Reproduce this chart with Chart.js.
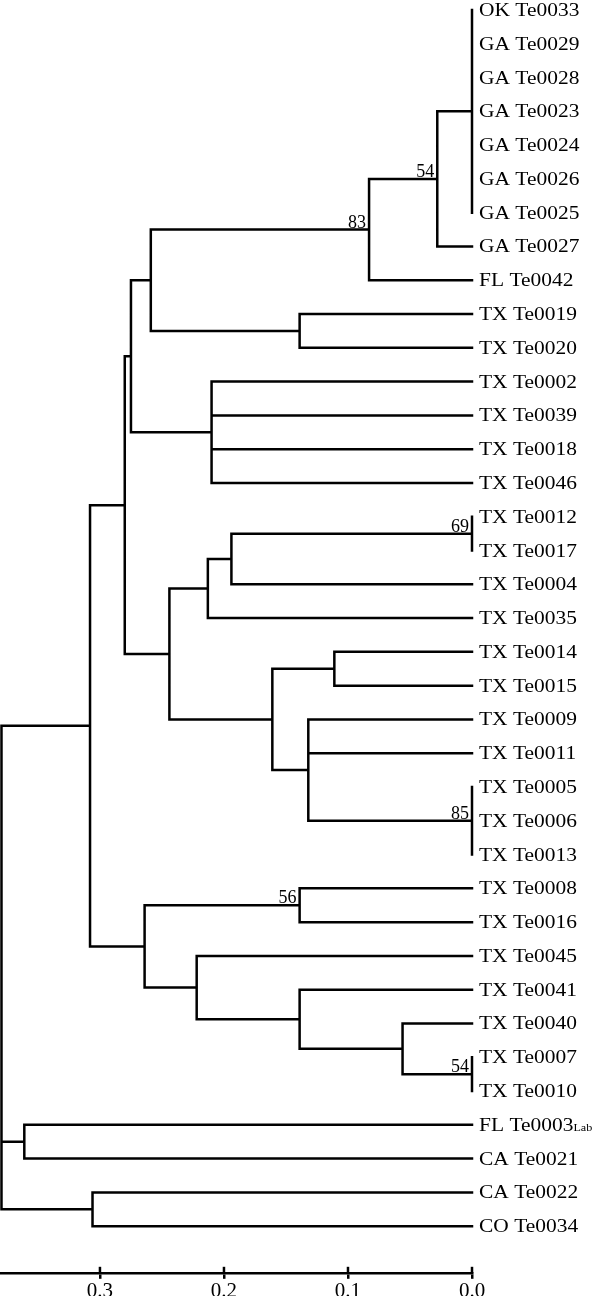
<!DOCTYPE html>
<html>
<head>
<meta charset="utf-8">
<script src="https://cdn.jsdelivr.net/npm/chart.js@4"></script>
<style>
  html, body { margin: 0; padding: 0; background: #fff; }
  #wrap { width: 600px; height: 1296px; overflow: hidden; }
  canvas { display: block; }
</style>
</head>
<body>
<div id="wrap"><canvas id="tree" width="600" height="1304"></canvas></div>
<script>
// leaf order, top to bottom
const leaves = [
  'OK Te0033', 'GA Te0029', 'GA Te0028', 'GA Te0023', 'GA Te0024', 'GA Te0026',
  'GA Te0025', 'GA Te0027', 'FL Te0042', 'TX Te0019', 'TX Te0020', 'TX Te0002',
  'TX Te0039', 'TX Te0018', 'TX Te0046', 'TX Te0012', 'TX Te0017', 'TX Te0004',
  'TX Te0035', 'TX Te0014', 'TX Te0015', 'TX Te0009', 'TX Te0011', 'TX Te0005',
  'TX Te0006', 'TX Te0013', 'TX Te0008', 'TX Te0016', 'TX Te0045', 'TX Te0041',
  'TX Te0040', 'TX Te0007', 'TX Te0010', 'FL Te0003', 'CA Te0021', 'CA Te0022',
  'CO Te0034'
];
const leafSubscripts = { 33: 'Lab' };

// clusters (children listed before parents); numbers = leaf index, strings = cluster
const nodeNames = ['okga', 'ga', 'gafl', 'tx19', 'east', 'tx02', 'g', 'tx12', 'tx04',
  'tx35', 'tx14', 'tx05', 'tx09', 'tx1409', 'p', 'h', 'tx08', 'tx07', 'tx40', 'tx41',
  'tx45', 'w', 'q', 'fl03', 'ca22', 'root'];
const nodeHeights = [0, 0.028, 0.083, 0.139, 0.259, 0.210, 0.275, 0, 0.194,
  0.213, 0.111, 0, 0.132, 0.161, 0.244, 0.280, 0.139, 0, 0.056, 0.139,
  0.222, 0.264, 0.308, 0.361, 0.306, 0.3794];
const nodeChildren = [
  [0, 1, 2, 3, 4, 5, 6], ['okga', 7], ['ga', 8], [9, 10], ['gafl', 'tx19'],
  [11, 12, 13, 14], ['east', 'tx02'], [15, 16], ['tx12', 17], ['tx04', 18],
  [19, 20], [23, 24, 25], [21, 22, 'tx05'], ['tx14', 'tx09'], ['tx35', 'tx1409'],
  ['g', 'p'], [26, 27], [31, 32], [30, 'tx07'], [29, 'tx40'], [28, 'tx41'],
  ['tx08', 'tx45'], ['h', 'w'], [33, 34], [35, 36], ['q', 'fl03', 'ca22']
];

// bootstrap support
const bootNodes = ['ga', 'gafl', 'tx12', 'tx05', 'tx08', 'tx07'];
const bootValues = [54, 83, 69, 85, 56, 54];

const axisTicks = [0, 0.1, 0.2, 0.3];

// layout: each cluster sits halfway between its first and last child
const pos = {};
function where(c) {
  return typeof c === 'number' ? { h: 0, y: c } : pos[c];
}
const segments = [];
nodeNames.forEach((name, i) => {
  const kids = nodeChildren[i].map(where);
  const h = nodeHeights[i];
  const first = kids[0];
  const last = kids[kids.length - 1];
  pos[name] = { h: h, y: (first.y + last.y) / 2 };
  segments.push({ x: first.h, y: first.y }, { x: h, y: first.y },
    { x: h, y: last.y }, { x: last.h, y: last.y }, { x: null, y: null });
  kids.slice(1, -1).forEach(k => {
    segments.push({ x: h, y: k.y }, { x: k.h, y: k.y }, { x: null, y: null });
  });
});

const serif = "'Liberation Serif', 'Times New Roman', serif";

const treeLabels = {
  id: 'treeLabels',
  afterDatasetsDraw(chart) {
    const { ctx, scales } = chart;
    const xs = scales.x, ys = scales.y;
    const x0 = xs.getPixelForValue(0) + 7;
    ctx.save();
    ctx.fillStyle = '#000';
    ctx.textBaseline = 'alphabetic';
    leaves.forEach((name, i) => {
      const y = ys.getPixelForValue(i) + 6;
      ctx.save();
      ctx.translate(x0, y);
      ctx.scale(1.1, 1);
      ctx.font = '19.5px ' + serif;
      ctx.textAlign = 'left';
      ctx.fillText(name, 0, 0);
      if (leafSubscripts[i]) {
        const w = ctx.measureText(name).width;
        ctx.font = '11px ' + serif;
        ctx.fillText(leafSubscripts[i], w, 0);
      }
      ctx.restore();
    });
    ctx.font = '18px ' + serif;
    ctx.textAlign = 'right';
    bootNodes.forEach((n, i) => {
      const p = pos[n];
      ctx.fillText(String(bootValues[i]), xs.getPixelForValue(p.h) - 3, ys.getPixelForValue(p.y) - 2);
    });
    // tick marks cross the axis line
    ctx.strokeStyle = '#000';
    ctx.lineWidth = 2.5;
    xs.ticks.forEach(t => {
      const px = xs.getPixelForValue(t.value);
      ctx.beginPath();
      ctx.moveTo(px, xs.top - 6);
      ctx.lineTo(px, xs.top);
      ctx.stroke();
    });
    ctx.restore();
  }
};

new Chart(document.getElementById('tree'), {
  type: 'line',
  data: {
    datasets: [{
      data: segments,
      borderColor: '#000',
      borderWidth: 2.5,
      pointRadius: 0,
      spanGaps: false,
      tension: 0,
      clip: false,
      borderCapStyle: 'square',
      borderJoinStyle: 'miter'
    }]
  },
  options: {
    responsive: false,
    animation: false,
    events: [],
    layout: { padding: { left: 0, right: 128, top: 0, bottom: 0 } },
    plugins: { legend: { display: false }, tooltip: { enabled: false } },
    scales: {
      x: {
        type: 'linear',
        reverse: true,
        min: 0,
        max: 0.3806,
        position: 'bottom',
        afterBuildTicks: scale => {
          scale.ticks = axisTicks.map(v => ({ value: v }));
        },
        grid: { drawOnChartArea: false, drawTicks: true, tickLength: 6, color: '#000', lineWidth: 2.5 },
        border: { display: true, color: '#000', width: 2.5 },
        ticks: {
          callback: v => v.toFixed(1),
          font: { family: serif, size: 21 },
          color: '#000',
          padding: 0,
          maxRotation: 0,
          autoSkip: false
        }
      },
      y: {
        type: 'linear',
        display: false,
        reverse: true,
        min: -0.296,
        max: 37.38
      }
    }
  },
  plugins: [treeLabels]
});
</script>
</body>
</html>
